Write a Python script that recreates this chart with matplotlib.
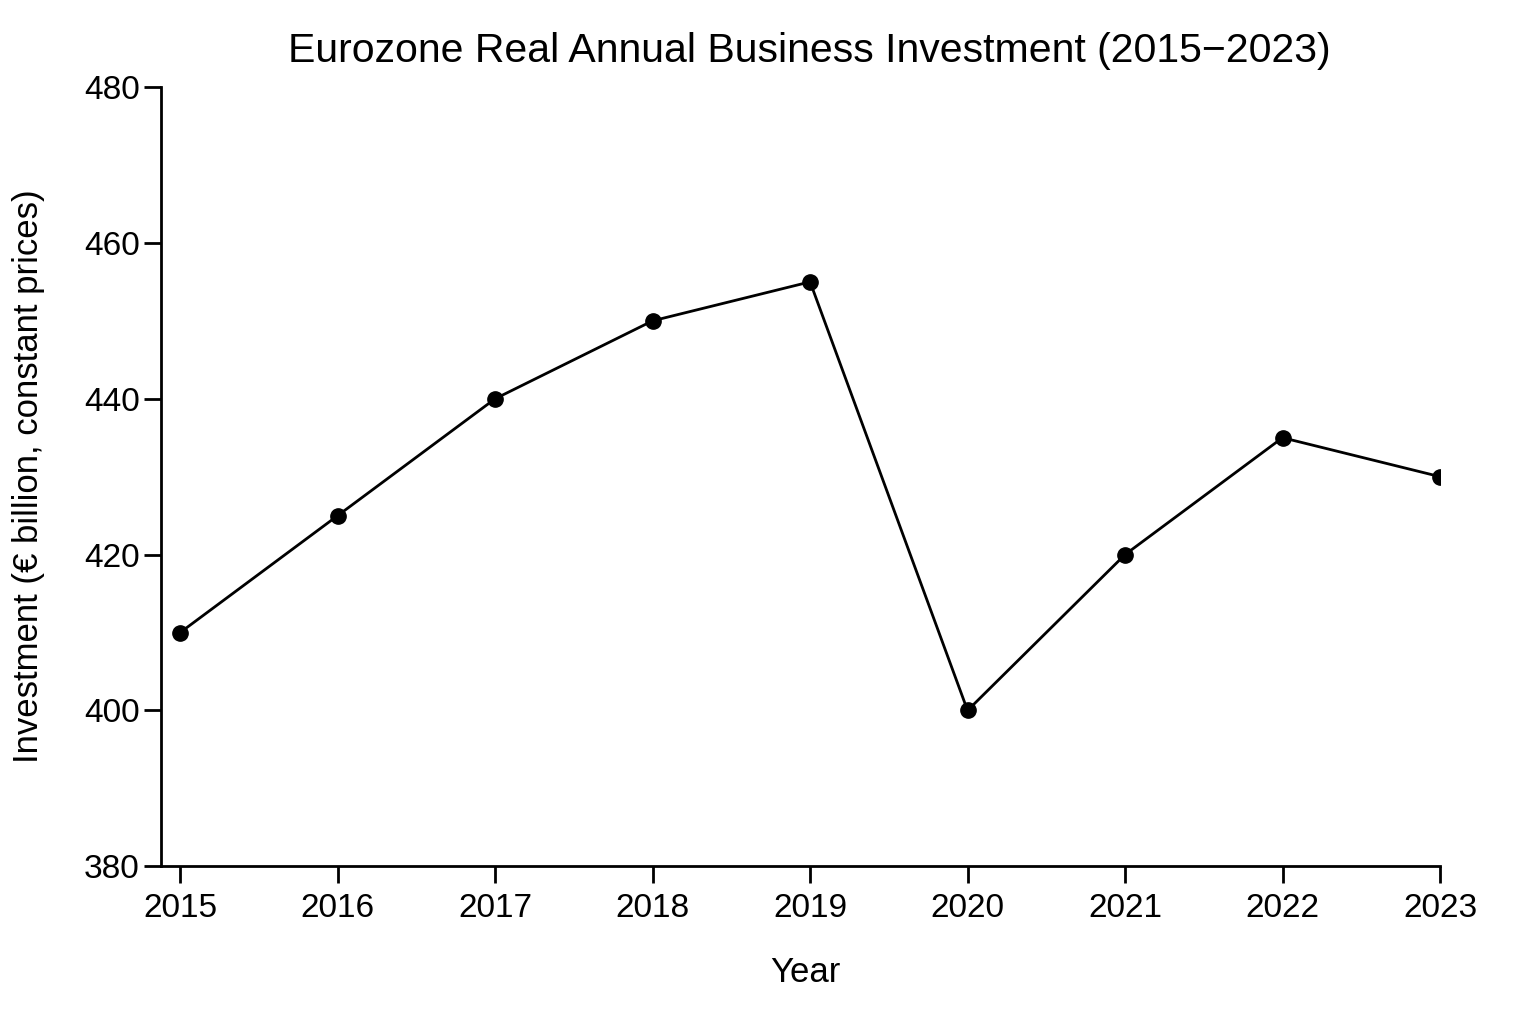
import matplotlib.pyplot as plt

years = [2015, 2016, 2017, 2018, 2019, 2020, 2021, 2022, 2023]
investment = [410, 425, 440, 450, 455, 400, 420, 435, 430]
y_ticks = [380, 400, 420, 440, 460, 480]

plt.rcParams['font.family'] = ['Liberation Sans', 'DejaVu Sans']

fig = plt.figure(figsize=(15.36, 10.24), dpi=100)
ax = fig.add_axes([0.105, 0.154, 0.8325, 0.761])

ax.plot(years, investment, color='black', linewidth=2, marker='o', markersize=11)

ax.set_xlim(2014.88, 2023)
ax.set_ylim(380, 480)
ax.set_xticks(years)
ax.set_yticks(y_ticks)

ax.spines['top'].set_visible(False)
ax.spines['right'].set_visible(False)
ax.spines['left'].set_linewidth(2)
ax.spines['bottom'].set_linewidth(2)
ax.tick_params(width=2, length=12, labelsize=24)
ax.tick_params(axis='x', pad=7)

ax.set_title('Eurozone Real Annual Business Investment (2015\u22122023)', fontsize=29.5, pad=18, x=0.507)
ax.set_xlabel('Year', fontsize=25, labelpad=24)
ax.xaxis.set_label_coords(0.504, -0.115)
ax.set_ylabel('Investment (\u20ac billion, constant prices)', fontsize=25, labelpad=28)

fig.savefig('out.png')
